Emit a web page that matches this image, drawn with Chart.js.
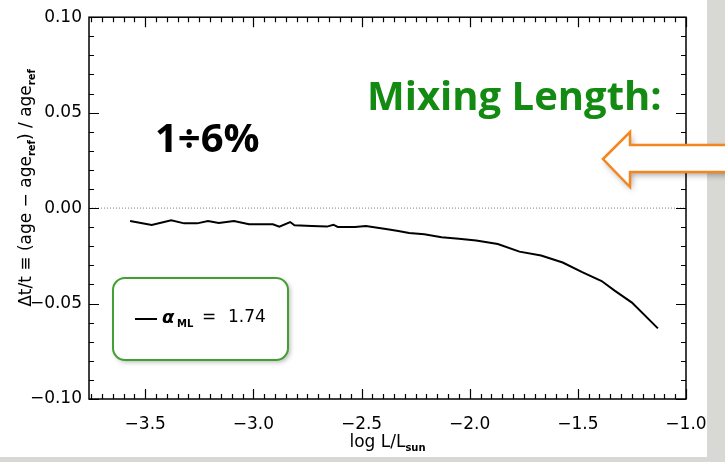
<!DOCTYPE html>
<html>
<head>
<meta charset="utf-8">
<script src="https://cdn.jsdelivr.net/npm/chart.js@4/dist/chart.umd.min.js"></script>
<style>
html, body { margin: 0; padding: 0; background: #fff; }
#wrap { width: 725px; height: 462px; }
</style>
</head>
<body>
<div id="wrap"><canvas id="ageChart" width="725" height="462"></canvas></div>
<script>
// log L/Lsun along the track
const logL = [-3.57, -3.47, -3.38, -3.32, -3.26, -3.21, -3.16, -3.09, -3.02, -2.91,
              -2.88, -2.83, -2.81, -2.73, -2.66, -2.63, -2.61, -2.53, -2.48, -2.38,
              -2.33, -2.28, -2.21, -2.13, -2.05, -1.97, -1.87, -1.77, -1.67, -1.57,
              -1.48, -1.39, -1.33, -1.25, -1.13];
// relative age difference (age - age_ref) / age_ref
const dAge = [-0.0068, -0.0089, -0.0064, -0.0080, -0.0080, -0.0068, -0.0078, -0.0068, -0.0085, -0.0085,
              -0.0097, -0.0073, -0.0090, -0.0094, -0.0097, -0.0087, -0.0099, -0.0099, -0.0094, -0.0111,
              -0.0120, -0.0130, -0.0137, -0.0153, -0.0160, -0.0170, -0.0188, -0.0228, -0.0248, -0.0285,
              -0.0335, -0.0382, -0.0432, -0.0495, -0.0630];

const xTicks = [-3.5, -3.0, -2.5, -2.0, -1.5, -1.0];
const yTicks = [-0.10, -0.05, 0.00, 0.05, 0.10];
const xRange = [-3.76, -1.0];
const yRange = [-0.10, 0.10];
const alphaML = '1.74';

const tickFont = { family: 'DejaVu Sans', size: 17 };

function signed(v, d) {   // IDL style minus sign
    if (Math.abs(v) < 1e-9) return (0).toFixed(d);
    return (v < 0 ? '\u2212' : '') + Math.abs(v).toFixed(d);
}

// draws text made of normal + subscript pieces, centred on (0,0) of current transform
function drawParts(ctx, parts, size, subSize) {
    let total = 0;
    parts.forEach(p => {
        ctx.font = p.sub ? 'bold ' + subSize + 'px DejaVu Sans' : size + 'px DejaVu Sans';
        p.w = ctx.measureText(p.t).width;
        total += p.w;
    });
    let x = -total / 2;
    parts.forEach(p => {
        ctx.font = p.sub ? 'bold ' + subSize + 'px DejaVu Sans' : size + 'px DejaVu Sans';
        ctx.fillText(p.t, x, p.sub ? 5 : 0);
        x += p.w;
    });
}

const decorPlugin = {
    id: 'decor',
    beforeDraw(chart) {
        const ctx = chart.ctx;
        ctx.save();
        ctx.fillStyle = '#ffffff';
        ctx.fillRect(0, 0, chart.width, chart.height);
        ctx.fillStyle = '#d8d8d5';   // slide background showing at the edges
        ctx.fillRect(707, 0, 18, chart.height);
        ctx.fillRect(0, 457, chart.width, 5);
        ctx.restore();
    },
    afterDraw(chart) {
        const ctx = chart.ctx;
        const a = chart.chartArea;
        const xs = chart.scales.x, ys = chart.scales.y;
        ctx.save();

        // frame
        ctx.strokeStyle = '#000';
        ctx.lineWidth = 1.5;
        ctx.strokeRect(a.left, a.top, a.right - a.left, a.bottom - a.top);

        // inward ticks on all four sides
        ctx.lineWidth = 1.2;
        ctx.beginPath();
        for (let v = -3.75; v <= -0.999; v += 0.05) {
            const px = Math.round(xs.getPixelForValue(v)) + 0.5;
            const major = xTicks.some(t => Math.abs(t - v) < 1e-6);
            const len = major ? 10 : 5;
            ctx.moveTo(px, a.bottom); ctx.lineTo(px, a.bottom - len);
            ctx.moveTo(px, a.top); ctx.lineTo(px, a.top + len);
        }
        for (let v = -0.10; v <= 0.1001; v += 0.01) {
            const py = Math.round(ys.getPixelForValue(v)) + 0.5;
            const major = yTicks.some(t => Math.abs(t - v) < 1e-6);
            const len = major ? 10 : 5;
            ctx.moveTo(a.left, py); ctx.lineTo(a.left + len, py);
            ctx.moveTo(a.right, py); ctx.lineTo(a.right - len, py);
        }
        ctx.stroke();

        // axis titles
        ctx.fillStyle = '#000';
        ctx.textBaseline = 'middle';
        ctx.textAlign = 'left';
        ctx.save();
        ctx.translate(27, 188);
        ctx.rotate(-Math.PI / 2);
        drawParts(ctx, [
            { t: '\u0394t/t \u2261 (age \u2212 age' }, { t: 'ref', sub: true },
            { t: ') / age' }, { t: 'ref', sub: true }
        ], 17, 10);
        ctx.restore();

        ctx.save();
        ctx.translate((a.left + a.right) / 2, 443);
        drawParts(ctx, [{ t: 'log L/L' }, { t: 'sun', sub: true }], 17, 10);
        ctx.restore();

        // cut-off title of the panel above
        ctx.save();
        ctx.translate(505, -9);
        drawParts(ctx, [{ t: 'log L/L' }, { t: 'sun', sub: true }], 17, 10);
        ctx.restore();

        // annotations
        ctx.textBaseline = 'alphabetic';
        ctx.textAlign = 'left';
        ctx.font = 'bold 40px "Open Sans"';
        ctx.fillStyle = '#000';
        ctx.fillText('1\u00f76%', 155, 152);
        ctx.fillStyle = '#138a12';
        ctx.fillText('Mixing Length:', 367, 110);

        // legend box
        const bx = 113, by = 278, bw = 175, bh = 82, r = 12;
        ctx.beginPath();
        ctx.roundRect(bx, by, bw, bh, r);
        ctx.save();
        ctx.shadowColor = 'rgba(0,0,0,0.3)';
        ctx.shadowBlur = 5;
        ctx.shadowOffsetX = 2;
        ctx.shadowOffsetY = 2;
        ctx.fillStyle = '#fff';
        ctx.fill();
        ctx.restore();
        ctx.strokeStyle = '#42a032';
        ctx.lineWidth = 2;
        ctx.stroke();

        ctx.strokeStyle = '#000';
        ctx.lineWidth = 2;
        ctx.beginPath();
        ctx.moveTo(135, 319); ctx.lineTo(157, 319);
        ctx.stroke();
        ctx.fillStyle = '#000';
        ctx.textBaseline = 'middle';
        ctx.font = 'italic bold 18px "DejaVu Sans"';
        ctx.fillText('\u03b1', 162, 318);
        ctx.font = 'bold 10px "DejaVu Sans"';
        ctx.fillText('ML', 177, 324);
        ctx.font = '17px "DejaVu Sans"';
        ctx.fillText('=', 202, 318);
        ctx.fillText(alphaML, 228, 318);

        // block arrow pointing left
        ctx.beginPath();
        ctx.moveTo(603, 159);
        ctx.lineTo(630, 132);
        ctx.lineTo(630, 145);
        ctx.lineTo(730, 145);
        ctx.lineTo(730, 172);
        ctx.lineTo(630, 172);
        ctx.lineTo(630, 187);
        ctx.closePath();
        ctx.save();
        ctx.shadowColor = 'rgba(0,0,0,0.35)';
        ctx.shadowBlur = 6;
        ctx.shadowOffsetX = 2;
        ctx.shadowOffsetY = 3;
        ctx.fillStyle = '#fff';
        ctx.fill();
        ctx.restore();
        ctx.strokeStyle = '#f5861f';
        ctx.lineWidth = 2.5;
        ctx.lineJoin = 'miter';
        ctx.stroke();

        ctx.restore();
    }
};

const ctx = document.getElementById('ageChart').getContext('2d');
const ageChart = new Chart(ctx, {
    type: 'line',
    data: {
        datasets: [{
            label: 'alpha_ML = ' + alphaML,
            data: logL.map((x, i) => ({ x: x, y: dAge[i] })),
            borderColor: '#000',
            borderWidth: 2,
            pointRadius: 0,
            tension: 0,
            order: 1
        }, {
            label: 'zero',
            data: [{ x: xRange[0], y: 0 }, { x: xRange[1], y: 0 }],
            borderColor: '#808080',
            borderWidth: 1,
            borderDash: [1, 2],
            pointRadius: 0,
            order: 2
        }]
    },
    options: {
        responsive: false,
        animation: false,
        layout: { padding: { top: 13, right: 39, left: 0, bottom: 0 } },
        plugins: { legend: { display: false }, tooltip: { enabled: false } },
        scales: {
            x: {
                type: 'linear',
                min: xRange[0],
                max: xRange[1],
                afterBuildTicks: s => { s.ticks = xTicks.map(v => ({ value: v })); },
                afterFit: s => { s.height = 63; },
                ticks: {
                    callback: v => signed(v, 1),
                    font: tickFont,
                    color: '#000',
                    padding: 15,
                    maxRotation: 0,
                    autoSkip: false
                },
                grid: { display: false, drawTicks: false },
                border: { display: false }
            },
            y: {
                type: 'linear',
                min: yRange[0],
                max: yRange[1],
                afterBuildTicks: s => { s.ticks = yTicks.map(v => ({ value: v })); },
                afterFit: s => { s.width = 89; },
                ticks: {
                    callback: v => signed(v, 2),
                    font: tickFont,
                    color: '#000',
                    padding: 7,
                    autoSkip: false
                },
                grid: { display: false, drawTicks: false },
                border: { display: false }
            }
        }
    },
    plugins: [decorPlugin]
});
</script>
</body>
</html>
